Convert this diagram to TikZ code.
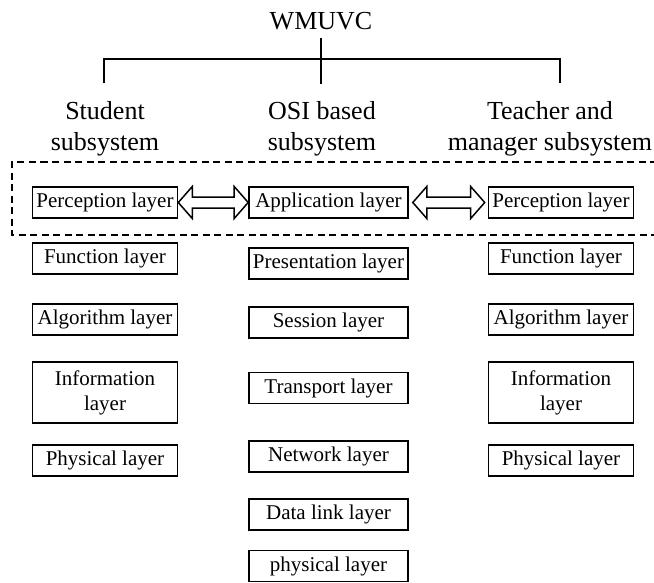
\documentclass[tikz,border=0pt]{standalone}
\usepackage{fontspec}
\setmainfont{Liberation Serif}
\usepackage{tikz}
\usetikzlibrary{calc}

\begin{document}
\begin{tikzpicture}[
  x=1pt, y=-1pt,
  head/.style={align=center, inner sep=0pt, font=\fontsize{26}{31}\selectfont},
  layer/.style={draw, line width=1.6pt, align=center, minimum height=31pt, minimum width=145pt, inner sep=1pt, font=\fontsize{21}{25}\selectfont},
  osilayer/.style={layer, minimum width=159pt},
  tree/.style={line width=1.5pt},
  frame/.style={line width=1.4pt, dash pattern=on 7pt off 4.5pt},
  hollow/.style={line width=1.5pt, fill=white, line join=miter},
]
\useasboundingbox (0,0) rectangle (654,582);

% title and tree
\node[head, inner sep=8pt] (title) at (321,21) {WMUVC};
\coordinate (hub) at (321,59);
\coordinate (dropL) at (104,83);
\coordinate (dropM) at (321,84);
\coordinate (dropR) at (560,83);
\draw[tree] (title.south) -- (dropM);
\draw[tree] (dropL) |- (hub) -| (dropR);

\node[head] (stu) at (105,129) {Student\\subsystem};
\node[head] (osi) at (322,129) {OSI based\\subsystem};
\node[head] (tea) at (550,129) {Teacher and\\manager subsystem};

% dashed frame round the top row
\draw[frame] (680,162) -- (12,162) -- (12,235) -- (680,235);

% student column
\node[layer] (percL) at (105,202.5) {Perception layer};
\node[layer] (funcL) at (105,258.5) {Function layer};
\node[layer] (algoL) at (105,319.5) {Algorithm layer};
\node[layer, minimum height=61pt] (infoL) at (105,392.5) {Information\\layer};
\node[layer] (physL) at (105,460.5) {Physical layer};

% OSI column
\node[osilayer] (appl) at (328.5,202.5) {Application layer};
\node[osilayer] (pres) at (328.5,263.5) {Presentation layer};
\node[osilayer] (sess) at (328.5,322.5) {Session layer};
\node[osilayer] (trans) at (328.5,388) {Transport layer};
\node[osilayer] (netw) at (328.5,456.5) {Network layer};
\node[osilayer] (dlink) at (328.5,514.5) {Data link layer};
\node[osilayer] (physM) at (328.5,566) {physical layer};

% teacher and manager column
\node[layer] (percR) at (561,202.5) {Perception layer};
\node[layer] (funcR) at (561,258.5) {Function layer};
\node[layer] (algoR) at (561,319.5) {Algorithm layer};
\node[layer, minimum height=61pt] (infoR) at (561,392.5) {Information\\layer};
\node[layer] (physR) at (561,460.5) {Physical layer};

% hollow double arrows
\draw[hollow] (percL.east) -- ++(14,-16) -- ++(0,10.5) -- ($(appl.west)+(-14,-5.5)$) -- ++(0,-10.5)
  -- (appl.west) -- ++(-14,16) -- ++(0,-10.5) -- ($(percL.east)+(14,5.5)$) -- ++(0,10.5) -- cycle;
\draw[hollow] ($(appl.east)+(4,0)$) -- ++(14,-16) -- ++(0,10.5) -- ($(percR.west)+(-17,-5.5)$) -- ++(0,-10.5)
  -- ($(percR.west)+(-3,0)$) -- ++(-14,16) -- ++(0,-10.5) -- ($(appl.east)+(18,5.5)$) -- ++(0,10.5) -- cycle;
\end{tikzpicture}
\end{document}
